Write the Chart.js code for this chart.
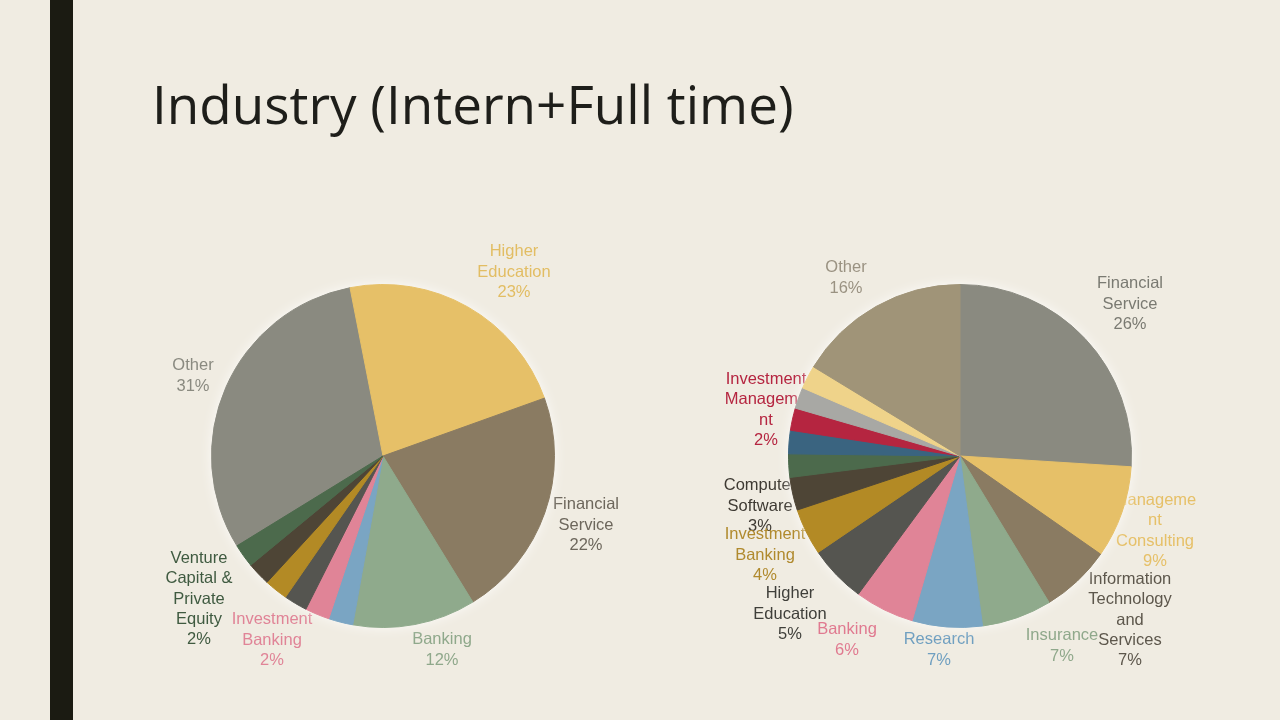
<!DOCTYPE html>
<html>
<head>
<meta charset="utf-8">
<script src="https://cdn.jsdelivr.net/npm/chart.js@4.4.1/dist/chart.umd.min.js"></script>
<style>
  html, body { margin:0; padding:0; }
  body { width:1280px; height:720px; background:#F0ECE2; position:relative; overflow:hidden; font-family:"Liberation Sans", Arial, sans-serif; }
  #bar { position:absolute; left:50px; top:0; width:23px; height:720px; background:#1B1B12; }
  #title { position:absolute; left:152px; top:72px; font-family:"Open Sans", sans-serif; font-size:53px; line-height:64px; color:#1E1E1A; white-space:nowrap; }
  canvas { position:absolute; }
  #left { left:130px; top:230px; }
  #right { left:700px; top:230px; }
</style>
</head>
<body>
<div id="bar"></div>
<div id="title">Industry (Intern+Full time)</div>
<canvas id="left" width="520" height="460"></canvas>
<canvas id="right" width="520" height="460"></canvas>
<script>
// ---------- Left pie data ----------
const leftCategories = ["Other", "Higher Education", "Financial Service", "Banking", "Unlabeled A", "Investment Banking", "Unlabeled B", "Unlabeled C", "Unlabeled D", "Venture Capital & Private Equity"];
const leftValues = [30.7, 22.6, 21.7, 11.6, 2.3, 2.3, 2.2, 2.2, 2.2, 2.2];

// ---------- Right pie data ----------
const rightCategories = ["Financial Service", "Management Consulting", "Information Technology and Services", "Insurance", "Research", "Banking", "Higher Education", "Investment Banking", "Computer Software", "Unlabeled E", "Unlabeled F", "Investment Management", "Unlabeled G", "Unlabeled H", "Other"];
const rightValues = [26.0, 8.7, 6.6, 6.6, 6.6, 5.6, 5.4, 4.4, 3.1, 2.2, 2.2, 2.1, 2.0, 2.2, 16.3];

// ---------- styles ----------
const leftColors = ["#8A8A80", "#E6C068", "#8A7B62", "#8FAA8C", "#7AA5C3", "#E08497", "#555550", "#B38A25", "#4E4536", "#4C6A4C"];
const rightColors = ["#8A8A80", "#E6C068", "#8A7B62", "#8FAA8C", "#7AA5C3", "#E08497", "#555550", "#B38A25", "#4E4536", "#4C6A4C", "#3A6480", "#B52540", "#A8A8A4", "#EFD38A", "#A09478"];

// label layout: index into data, display lines (name part), offset from pie centre, colour
const leftLabels = [
  { i:1, lines:["Higher","Education"], dx:131, dy:-184, color:"#E2BD63" },
  { i:2, lines:["Financial","Service"], dx:203, dy:69, color:"#6D675C" },
  { i:3, lines:["Banking"], dx:59, dy:194, color:"#8FA88B" },
  { i:5, lines:["Investment","Banking"], dx:-111, dy:184, color:"#E08497" },
  { i:9, lines:["Venture","Capital &","Private","Equity"], dx:-184, dy:143, color:"#3F5A40" },
  { i:0, lines:["Other"], dx:-190, dy:-80, color:"#8A8A80" }
];
const rightLabels = [
  { i:14, lines:["Other"], dx:-114, dy:-178, color:"#9A9282" },
  { i:0, lines:["Financial","Service"], dx:170, dy:-152, color:"#7A7A72" },
  { i:1, lines:["Manageme","nt","Consulting"], dx:195, dy:75, color:"#E6C068" },
  { i:2, lines:["Information","Technology","and","Services"], dx:170, dy:164, color:"#5D574C" },
  { i:3, lines:["Insurance"], dx:102, dy:190, color:"#8FA88B" },
  { i:4, lines:["Research"], dx:-21, dy:194, color:"#6F9FC0" },
  { i:5, lines:["Banking"], dx:-113, dy:184, color:"#E07A90" },
  { i:6, lines:["Higher","Education"], dx:-170, dy:158, color:"#3F3F3A" },
  { i:8, lines:["Computer","Software"], dx:-200, dy:50, color:"#3E3A33" },
  { i:7, lines:["Investment","Banking"], dx:-195, dy:99, color:"#B08A2E" },
  { i:11, lines:["Investment","Manageme","nt"], dx:-194, dy:-46, color:"#B52540" }
];

const FONT = '16.5px "Liberation Sans", Arial, sans-serif';
const LINE_H = 20.3;

const labelAndHaloPlugin = {
  id: 'labelAndHalo',
  beforeDatasetsDraw(chart, args, opts) {
    const ctx = chart.ctx;
    const meta = chart.getDatasetMeta(0);
    const arc0 = meta.data[0];
    const cx = arc0.x, cy = arc0.y, r = arc0.outerRadius;
    const values = chart.data.datasets[0].data;
    const total = values.reduce((a, b) => a + b, 0);
    // labels (drawn under the pie, as in the reference)
    ctx.save();
    ctx.font = FONT;
    ctx.textAlign = 'center';
    ctx.textBaseline = 'middle';
    opts.labels.forEach(l => {
      const lines = l.lines.concat([Math.round(values[l.i] / total * 100) + '%']);
      const y0 = cy + l.dy - (lines.length - 1) * LINE_H / 2;
      ctx.fillStyle = l.color;
      lines.forEach((t, k) => ctx.fillText(t, cx + l.dx, y0 + k * LINE_H));
    });
    ctx.restore();
    // soft light halo round the pie
    ctx.save();
    ctx.shadowColor = 'rgba(255,255,255,0.95)';
    ctx.shadowBlur = 14;
    ctx.fillStyle = '#8A8A80';
    ctx.beginPath();
    ctx.arc(cx, cy, r - 1, 0, Math.PI * 2);
    ctx.fill();
    ctx.restore();
  }
};

function makePie(id, cats, vals, colors, rotation, padding, labels) {
  return new Chart(document.getElementById(id), {
    type: 'pie',
    data: { labels: cats, datasets: [{ data: vals, backgroundColor: colors, borderColor: colors, borderWidth: 1 }] },
    options: {
      responsive: false,
      animation: false,
      rotation: rotation,
      layout: { padding: padding },
      plugins: {
        legend: { display: false },
        tooltip: { enabled: false },
        labelAndHalo: { labels: labels }
      }
    },
    plugins: [labelAndHaloPlugin]
  });
}

makePie('left', leftCategories, leftValues, leftColors, 238.4, { left:81, right:95, top:54, bottom:62 }, leftLabels);
makePie('right', rightCategories, rightValues, rightColors, 0, { left:88, right:88, top:54, bottom:62 }, rightLabels);
</script>
</body>
</html>
